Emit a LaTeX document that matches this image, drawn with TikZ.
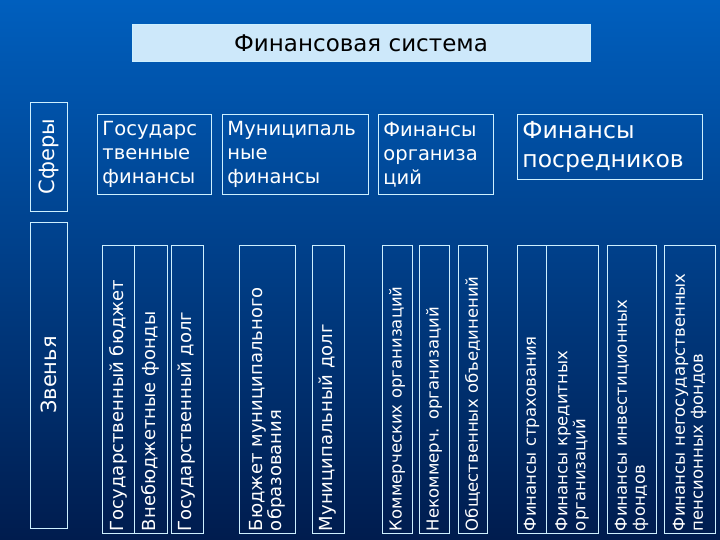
\documentclass[tikz,border=0pt]{standalone}
\usepackage{fontspec}
\setmainfont{DejaVu Sans}
\definecolor{edge}{RGB}{205,240,255}
\definecolor{tfill}{RGB}{205,232,250}
\definecolor{bgA}{RGB}{0,95,190}
\definecolor{bgB}{RGB}{0,28,78}
\begin{document}
\begin{tikzpicture}[x=1pt,y=-1pt,
  box/.style={draw=edge,line width=0.9pt,text=white,inner sep=0pt},
  top/.style={box,anchor=north west,align=left,font=\fontsize{19.5}{24}\selectfont,inner xsep=5pt,inner ysep=4pt},
  col/.style={box,rotate=90,font=\fontsize{18}{19}\selectfont,align=left,minimum width=288pt,text width=284pt,inner xsep=2pt}]
\shade[left color=bgA,right color=bgB,shading angle=0] (0,0) rectangle (720,540);
\shade[top color=bgA,bottom color=bgB,opacity=0.3] (0,0) rectangle (720,540);
\useasboundingbox (0,0) rectangle (720,540);
\node[draw=edge,fill=tfill,minimum width=458pt,minimum height=37pt,font=\fontsize{23}{26}\selectfont] (title) at (361,43) {Финансовая система};
\node[box,rotate=90,minimum width=109pt,minimum height=37pt,font=\fontsize{21}{24}\selectfont] (sf) at (48.5,156.5) {Сферы};
\node[box,rotate=90,minimum width=306pt,minimum height=37pt,font=\fontsize{21}{24}\selectfont] (zv) at (48.5,375) {Звенья};
\node[top,minimum width=114pt,minimum height=80pt,text width=104pt] (t1) at (97,114) {Государс\\твенные\\финансы};
\node[top,minimum width=146pt,minimum height=80pt,text width=136pt] (t2) at (222,114) {Муниципаль\\ные\\финансы};
\node[top,minimum width=115pt,minimum height=80pt,text width=105pt] (t3) at (378,114) {Финансы\\организа\\ций};
\node[top,minimum width=185pt,minimum height=65pt,text width=175pt,font=\fontsize{23.5}{29}\selectfont] (t4) at (517,114) {Финансы\\посредников};
\node[col,minimum height=32pt] (c1) at (118,389) {Государственный бюджет};
\node[col,minimum height=33pt] (c2) at (150.5,389) {Внебюджетные фонды};
\node[col,minimum height=32pt] (c3) at (187,389) {Государственный долг};
\node[col,minimum height=56pt] (c4) at (267,389) {Бюджет муниципального\\образования};
\node[col,minimum height=32pt] (c5) at (328,389) {Муниципальный долг};
\node[col,minimum height=30pt,font=\fontsize{16.5}{18}\selectfont] (c6) at (397,389) {Коммерческих организаций};
\node[col,minimum height=30pt,font=\fontsize{16.5}{18}\selectfont] (c7) at (434,389) {Некоммерч. организаций};
\node[col,minimum height=29pt,font=\fontsize{16.5}{18}\selectfont] (c8) at (472.5,389) {Общественных объединений};
\node[col,minimum height=29pt,font=\fontsize{16.5}{18}\selectfont] (c9) at (531.5,389) {Финансы страхования};
\node[col,minimum height=52pt,font=\fontsize{16.5}{18}\selectfont] (c10) at (572,389) {Финансы кредитных\\организаций};
\node[col,minimum height=49pt,font=\fontsize{16.5}{18}\selectfont] (c11) at (631.5,389) {Финансы инвестиционных\\фондов};
\node[col,minimum height=51pt,font=\fontsize{16.5}{18}\selectfont] (c12) at (689.5,389) {Финансы негосударственных\\пенсионных фондов};
\end{tikzpicture}
\end{document}
